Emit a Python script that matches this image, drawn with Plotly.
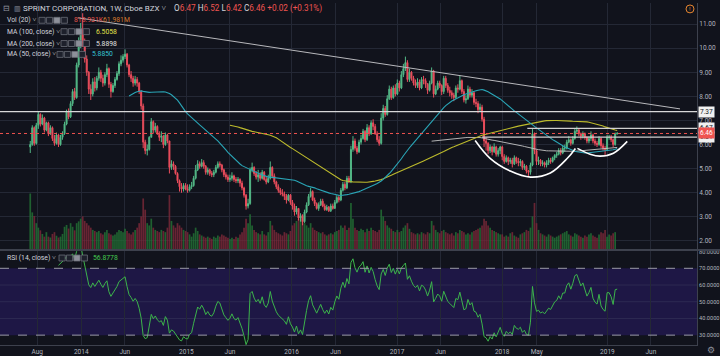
import numpy as np
import pandas as pd
import plotly.graph_objects as go

# ---------------- data (weekly) ----------------
start_date = "2013-07-08"
first_open = 5.90

close_2013 = [6.00, 6.70, 6.05, 6.80,
              7.25, 6.85, 7.10, 6.60,
              6.90, 6.45, 6.70, 6.25, 6.05,
              6.40, 6.00, 6.30, 6.45,
              6.85, 7.35, 7.15, 7.70,
              8.20, 7.95, 9.30, 10.10, 10.75]
high_2013 = [6.15, 6.80, 6.75, 6.90,
             7.35, 7.30, 7.25, 7.15,
             6.95, 6.95, 6.80, 6.75, 6.40,
             6.50, 6.45, 6.40, 6.55,
             6.95, 7.45, 7.50, 7.80,
             8.30, 8.35, 9.40, 10.45, 11.05]
low_2013 = [5.65, 5.95, 5.95, 6.00,
            6.65, 6.75, 6.80, 6.50,
            6.55, 6.35, 6.40, 6.15, 5.95,
            6.00, 5.90, 5.95, 6.20,
            6.40, 6.80, 7.05, 7.10,
            7.60, 7.85, 7.90, 9.20, 10.00]

close_2014 = [10.20, 9.55, 9.00, 8.30,
              8.10, 8.60, 8.35, 8.75,
              9.00, 8.75, 8.55, 8.90, 9.15,
              8.50, 8.20, 8.45, 8.70,
              8.95, 9.35, 9.50, 9.65,
              9.75, 9.30, 8.90, 8.75, 8.55,
              8.70, 8.55, 8.20, 7.60,
              6.10, 5.75, 5.80, 6.30,
              6.95, 6.60, 6.75, 6.45, 6.30,
              6.35, 6.00, 6.40, 6.15,
              5.05, 5.20, 5.10, 4.80,
              4.50, 4.25, 4.15, 4.30, 4.15]
high_2014 = [11.45, 10.40, 9.70, 9.05,
             8.50, 8.75, 8.80, 8.85,
             9.20, 9.10, 8.90, 9.00, 9.35,
             9.20, 8.60, 8.55, 8.80,
             9.05, 9.45, 9.70, 9.75,
             9.95, 9.80, 9.35, 9.05, 8.85,
             8.85, 8.80, 8.60, 8.25,
             7.70, 6.20, 6.00, 6.35,
             7.10, 7.00, 6.90, 6.80, 6.55,
             6.55, 6.40, 6.50, 6.45,
             6.10, 5.35, 5.30, 5.15,
             4.85, 4.55, 4.40, 4.40, 4.40]
low_2014 = [10.05, 9.40, 8.85, 8.10,
            7.85, 8.00, 8.20, 8.25,
            8.65, 8.60, 8.40, 8.45, 8.80,
            8.35, 7.95, 8.15, 8.35,
            8.65, 8.85, 9.25, 9.40,
            9.55, 9.20, 8.80, 8.60, 8.40,
            8.45, 8.40, 8.10, 7.45,
            5.85, 5.60, 5.55, 5.75,
            6.30, 6.45, 6.50, 6.40, 6.15,
            6.10, 5.85, 5.95, 6.05,
            4.80, 4.95, 4.95, 4.75,
            4.40, 4.05, 4.00, 4.05, 4.10]

close_2015 = [4.10, 4.25, 4.30, 4.60,
              4.95, 5.20, 5.10, 5.25,
              5.10, 4.85, 4.95, 4.80, 4.75,
              4.85, 5.05, 5.20, 5.15,
              4.95, 4.75, 4.65, 4.55,
              4.60, 4.70, 4.55, 4.50, 4.55,
              4.40, 4.20, 3.90, 3.45,
              3.55, 4.95, 5.05, 4.80, 4.65,
              4.75, 4.60, 4.85, 4.55,
              4.45, 4.60, 5.05, 4.70,
              4.45, 4.25, 4.10, 4.00, 3.95,
              3.85, 3.70, 3.90, 3.60]
high_2015 = [4.35, 4.35, 4.45, 4.70,
             5.15, 5.35, 5.30, 5.40,
             5.35, 5.15, 5.05, 5.00, 4.90,
             4.95, 5.15, 5.30, 5.30,
             5.20, 5.00, 4.85, 4.75,
             4.75, 4.85, 4.75, 4.65, 4.65,
             4.60, 4.50, 4.25, 3.95,
             3.75, 5.05, 5.25, 5.10, 4.90,
             4.95, 4.85, 4.95, 4.90,
             4.65, 4.75, 5.30, 5.10,
             4.80, 4.50, 4.35, 4.20, 4.15,
             4.05, 3.95, 3.95, 3.95]
low_2015 = [4.00, 4.05, 4.15, 4.25,
            4.55, 4.90, 5.00, 5.05,
            5.00, 4.75, 4.75, 4.70, 4.65,
            4.65, 4.80, 5.00, 5.05,
            4.85, 4.65, 4.55, 4.45,
            4.45, 4.50, 4.45, 4.40, 4.40,
            4.25, 4.10, 3.80, 3.30,
            3.35, 3.50, 4.85, 4.70, 4.55,
            4.45, 4.50, 4.55, 4.50,
            4.35, 4.40, 4.55, 4.60,
            4.35, 4.15, 4.00, 3.90, 3.85,
            3.70, 3.55, 3.65, 3.50]

close_2016 = [3.45, 3.20, 3.35, 2.95,
              3.05, 2.80, 3.20, 3.50, 3.85,
              4.05, 3.70, 3.55, 3.35,
              3.50, 3.65, 3.45, 3.30,
              3.40, 3.25, 3.45, 3.35, 3.60,
              3.80, 3.70, 4.10, 4.35,
              4.20, 4.60, 4.45, 5.80,
              6.15, 5.85, 5.70, 6.10, 6.25,
              6.55, 6.20, 6.70, 6.45,
              6.90, 6.75, 6.45, 6.20, 6.05,
              7.10, 7.50, 7.25, 7.90,
              8.30, 7.95, 8.35, 8.10]
high_2016 = [3.70, 3.55, 3.45, 3.35,
             3.15, 3.10, 3.30, 3.60, 3.95,
             4.20, 4.10, 3.80, 3.60,
             3.60, 3.75, 3.75, 3.55,
             3.50, 3.45, 3.55, 3.55, 3.70,
             3.90, 3.90, 4.20, 4.45,
             4.45, 4.70, 4.70, 5.95,
             6.35, 6.25, 5.95, 6.20, 6.40,
             6.65, 6.60, 6.85, 6.80,
             7.00, 7.05, 6.85, 6.55, 6.35,
             7.30, 7.65, 7.60, 8.05,
             8.45, 8.40, 8.45, 8.50]
low_2016 = [3.30, 3.05, 3.10, 2.85,
            2.80, 2.65, 2.75, 3.15, 3.45,
            3.80, 3.65, 3.45, 3.30,
            3.25, 3.45, 3.40, 3.25,
            3.25, 3.20, 3.20, 3.30, 3.35,
            3.55, 3.60, 3.65, 4.05,
            4.10, 4.15, 4.40, 4.40,
            5.70, 5.75, 5.60, 5.65, 6.00,
            6.20, 6.10, 6.15, 6.35,
            6.40, 6.60, 6.40, 6.10, 5.95,
            6.00, 7.00, 7.15, 7.20,
            7.85, 7.85, 7.90, 8.00]

close_2017 = [8.55, 8.35, 8.90, 9.15, 9.40,
              8.70, 9.00, 8.75, 8.55,
              8.45, 8.60, 8.35, 8.70,
              8.65, 8.50, 8.25, 8.55,
              9.05, 8.10, 8.30, 8.55, 8.45,
              8.20, 8.75, 8.45, 8.25,
              8.15, 8.05, 7.95, 8.35, 8.30,
              8.65, 8.20, 7.85, 7.90,
              8.30, 8.05, 8.15, 7.75,
              7.70, 7.45, 7.55, 7.05, 6.15,
              6.05, 5.75, 5.90, 5.70,
              5.90, 5.60, 5.75, 5.90]
high_2017 = [8.70, 8.65, 9.05, 9.35, 9.65,
             9.50, 9.15, 9.05, 8.85,
             8.70, 8.75, 8.70, 8.80,
             8.85, 8.75, 8.55, 8.65,
             9.20, 9.10, 8.45, 8.65, 8.65,
             8.50, 8.85, 8.85, 8.55,
             8.40, 8.25, 8.15, 8.45, 8.50,
             8.85, 8.70, 8.30, 8.05,
             8.45, 8.40, 8.30, 8.20,
             7.90, 7.80, 7.70, 7.65, 7.15,
             6.30, 6.10, 6.00, 5.95,
             6.05, 5.95, 5.85, 5.95]
low_2017 = [8.05, 8.20, 8.30, 8.80, 9.05,
            8.60, 8.60, 8.65, 8.45,
            8.35, 8.35, 8.25, 8.30,
            8.50, 8.35, 8.10, 8.20,
            8.50, 7.95, 8.05, 8.25, 8.35,
            8.05, 8.10, 8.35, 8.15,
            8.00, 7.90, 7.80, 7.90, 8.15,
            8.25, 8.10, 7.75, 7.70,
            7.85, 7.95, 7.95, 7.65,
            7.55, 7.30, 7.35, 6.95, 5.90,
            5.75, 5.60, 5.65, 5.55,
            5.65, 5.50, 5.50, 5.60]

close_2018 = [5.50, 5.30, 5.45, 5.30, 5.35,
              5.20, 5.45, 5.30, 5.25,
              5.30, 5.05, 5.10, 4.90,
              4.85, 5.15, 6.45, 5.75, 5.30,
              5.35, 5.20, 5.25, 5.15,
              5.25, 5.35, 5.30, 5.45,
              5.55, 5.60, 5.75, 5.65, 5.85,
              5.85, 6.10, 6.20, 6.05,
              6.25, 6.55, 6.60, 6.45,
              6.35, 6.45, 6.30, 6.15, 6.25,
              6.40, 6.15, 6.05, 6.00,
              6.25, 5.95, 5.85, 5.80, 6.30]
high_2018 = [5.95, 5.60, 5.55, 5.50, 5.45,
             5.45, 5.55, 5.50, 5.45,
             5.40, 5.35, 5.20, 5.15,
             4.95, 5.25, 6.65, 6.50, 5.80,
             5.50, 5.40, 5.35, 5.30,
             5.35, 5.45, 5.45, 5.50,
             5.60, 5.70, 5.85, 5.85, 5.95,
             6.00, 6.20, 6.35, 6.25,
             6.35, 6.65, 6.75, 6.65,
             6.50, 6.55, 6.50, 6.35, 6.35,
             6.55, 6.45, 6.25, 6.15,
             6.35, 6.30, 6.05, 5.95, 6.40]
low_2018 = [5.35, 5.20, 5.25, 5.15, 5.20,
            5.05, 5.15, 5.20, 5.10,
            5.10, 4.95, 4.95, 4.80,
            4.70, 4.75, 5.10, 5.60, 5.15,
            5.15, 5.10, 5.10, 5.05,
            5.05, 5.15, 5.20, 5.25,
            5.35, 5.45, 5.55, 5.55, 5.60,
            5.70, 5.80, 6.05, 5.95,
            6.00, 6.20, 6.45, 6.35,
            6.20, 6.25, 6.20, 6.05, 6.05,
            6.15, 6.05, 5.95, 5.90,
            5.95, 5.85, 5.75, 5.55, 5.75]

close_2019 = [6.30, 6.20, 6.00, 6.44, 6.46]
high_2019 = [6.40, 6.40, 6.25, 6.50, 6.52]
low_2019 = [6.20, 6.10, 5.90, 5.95, 6.42]

vol_2013 = [252, 168, 152, 120, 100, 88, 72, 60, 80, 60, 56, 72, 80,
            64, 56, 60, 72, 104, 112, 96, 120, 104, 88, 120, 128, 140]
vol_2014 = [150, 130, 120, 110, 100, 90, 85, 80, 85, 75, 70, 80, 90,
            75, 70, 65, 70, 80, 90, 85, 80, 95, 85, 75, 70, 80,
            90, 100, 120, 150, 230, 180, 120, 110, 140, 100, 90, 85, 80,
            90, 85, 80, 100, 245, 130, 110, 100, 120, 110, 100, 90, 85]
vol_2015 = [80, 70, 60, 75, 100, 85, 70, 65, 60, 55, 60, 55, 50,
            60, 55, 65, 60, 70, 65, 60, 55, 50, 55, 50, 60, 55,
            70, 80, 100, 140, 120, 160, 110, 90, 80, 75, 70, 85, 70,
            65, 80, 130, 110, 90, 80, 75, 70, 65, 80, 75, 70, 85]
vol_2016 = [110, 120, 130, 140, 150, 160, 120, 110, 100, 120, 100, 90, 85,
            80, 75, 80, 70, 65, 70, 75, 70, 80, 85, 90, 110, 100,
            110, 90, 100, 210, 140, 100, 90, 85, 95, 90, 80, 95, 85,
            100, 90, 85, 80, 90, 180, 150, 130, 110, 100, 95, 85, 80]
vol_2017 = [90, 80, 85, 100, 110, 120, 95, 80, 75, 70, 75, 70, 80,
            75, 70, 80, 75, 130, 110, 90, 80, 75, 85, 90, 80, 75,
            70, 75, 65, 80, 75, 90, 85, 80, 70, 75, 70, 80, 85,
            90, 95, 100, 110, 140, 130, 110, 100, 90, 85, 80, 75, 70]
vol_2018 = [70, 60, 65, 60, 75, 80, 65, 60, 55, 70, 75, 80, 90,
            85, 100, 150, 210, 120, 90, 75, 70, 65, 60, 70, 65, 60,
            55, 60, 65, 70, 75, 80, 85, 70, 65, 60, 75, 70, 65,
            60, 55, 65, 60, 70, 75, 65, 60, 55, 70, 80, 75, 90, 60]
vol_2019 = [70, 65, 75, 80, 0.8]

# chart drawings (date, price)
trend_dates = ["2013-12-20", "2019-09-10"]
trend_prices = [11.26, 7.48]
level_main = 7.37
last_price = 6.46
ray_levels = [6.67, 6.31]
ray_starts = ["2018-03-29", "2017-10-23"]
cup_dates = ["2017-09-29", "2017-11-20", "2018-01-29", "2018-04-09",
             "2018-06-17", "2018-08-15", "2018-09-12"]
cup_prices = [6.17, 5.43, 4.90, 4.65, 4.82, 5.43, 5.84]
handle_dates = ["2018-09-19", "2018-11-02", "2018-12-07", "2019-01-22", "2019-03-11"]
handle_prices = [5.84, 5.60, 5.52, 5.64, 6.13]

price_ticks = [2, 3, 4, 5, 6, 7, 8, 9, 10, 11]
rsi_ticks = [30, 40, 50, 60, 70, 80]
x_tick_dates = ["2013-08-01", "2014-01-01", "2014-06-01", "2015-01-01", "2015-06-01",
                "2016-01-01", "2016-06-01", "2017-01-01", "2017-06-01", "2018-01-01",
                "2018-05-01", "2019-01-01", "2019-06-01"]
x_tick_text = ["Aug", "2014", "Jun", "2015", "Jun", "2016", "Jun", "2017", "Jun",
               "2018", "May", "2019", "Jun"]

# ---------------- assemble ----------------
close = np.array(close_2013 + close_2014 + close_2015 + close_2016 + close_2017 + close_2018 + close_2019)
high_in = np.array(high_2013 + high_2014 + high_2015 + high_2016 + high_2017 + high_2018 + high_2019)
low_in = np.array(low_2013 + low_2014 + low_2015 + low_2016 + low_2017 + low_2018 + low_2019)
volume = np.array(vol_2013 + vol_2014 + vol_2015 + vol_2016 + vol_2017 + vol_2018 + vol_2019)
n = min(len(close), len(high_in), len(low_in), len(volume))
close, high_in, low_in, volume = close[:n], high_in[:n], low_in[:n], volume[:n]
opn = np.concatenate([[first_open], close[:-1]])
high = np.maximum(high_in, np.maximum(opn, close))
low = np.minimum(low_in, np.minimum(opn, close))
dates = pd.date_range(start_date, periods=n, freq="W-MON")

s = pd.Series(close)
ma50 = s.rolling(50).mean()
ma100 = s.rolling(100).mean()
ma200 = s.rolling(200).mean()
d = s.diff()
au = d.clip(lower=0).ewm(alpha=1 / 14, adjust=False, min_periods=14).mean()
ad = (-d).clip(lower=0).ewm(alpha=1 / 14, adjust=False, min_periods=14).mean()
rsi = 100 - 100 / (1 + au / ad)

# ---------------- style / layout constants ----------------
BG = "#11131c"
GRID = "#242835"
AXIS_TXT = "#b2b5be"
UP = "#53b987"
DN = "#eb4d5c"
FONT = "Roboto"
PW, PH = 697.0, 346.0  # plot area pixels


def px(x):
    return x / PW


def py(y):
    return (PH - y) / PH


fig = go.Figure()

vol_colors = ["rgba(34,110,52,0.85)" if c >= o else "rgba(120,40,55,0.85)" for o, c in zip(opn, close)]
fig.add_trace(go.Bar(x=dates, y=volume, marker=dict(color=vol_colors, line=dict(width=0)),
                     xaxis="x", yaxis="y", hoverinfo="skip"))

fig.add_trace(go.Candlestick(x=dates, open=opn, high=high, low=low, close=close,
                             increasing=dict(line=dict(color=UP, width=1), fillcolor=UP),
                             decreasing=dict(line=dict(color=DN, width=1), fillcolor=DN),
                             whiskerwidth=0, xaxis="x", yaxis="y3", hoverinfo="skip"))

fig.add_trace(go.Scatter(x=dates, y=ma200, mode="lines", line=dict(color="#c4c4c4", width=0.9),
                         xaxis="x", yaxis="y3", hoverinfo="skip"))
fig.add_trace(go.Scatter(x=dates, y=ma100, mode="lines", line=dict(color="#bdbb2c", width=1.1),
                         xaxis="x", yaxis="y3", hoverinfo="skip"))
fig.add_trace(go.Scatter(x=dates, y=ma50, mode="lines", line=dict(color="#2aa5b6", width=1.1),
                         xaxis="x", yaxis="y3", hoverinfo="skip"))

fig.add_trace(go.Scatter(x=trend_dates, y=trend_prices, mode="lines", line=dict(color="#b8b8bc", width=1),
                         xaxis="x", yaxis="y3", hoverinfo="skip"))
fig.add_trace(go.Scatter(x=cup_dates, y=cup_prices, mode="lines",
                         line=dict(color="#ffffff", width=1.6, shape="spline"),
                         xaxis="x", yaxis="y3", hoverinfo="skip"))
fig.add_trace(go.Scatter(x=handle_dates, y=handle_prices, mode="lines",
                         line=dict(color="#ffffff", width=1.6, shape="spline"),
                         xaxis="x", yaxis="y3", hoverinfo="skip"))

fig.add_trace(go.Scatter(x=dates, y=rsi, mode="lines", line=dict(color="#3cb44b", width=1),
                         xaxis="x2", yaxis="y2", hoverinfo="skip"))

x_range = ["2013-03-25", "2019-11-08"]
price_dom0 = (PH - 250) / PH
rsi_dom1 = (PH - 251) / PH

shapes = []
# RSI band & grid
shapes.append(dict(type="rect", xref="paper", yref="y2", x0=0, x1=1, y0=30, y1=70,
                   fillcolor="#1e1745", line=dict(width=0), layer="below"))
for v in [40, 50, 60]:
    shapes.append(dict(type="line", xref="paper", yref="y2", x0=0, x1=1, y0=v, y1=v,
                       line=dict(color="#2e2a52", width=1), layer="below"))
for v in [70, 30]:
    shapes.append(dict(type="line", xref="paper", yref="y2", x0=0, x1=1, y0=v, y1=v,
                       line=dict(color="#9a9aa6", width=1, dash="dash")))
# panel separator
shapes.append(dict(type="line", xref="paper", yref="paper", x0=0, x1=1.04, y0=py(250), y1=py(250),
                   line=dict(color="#3d414d", width=2)))
# horizontal levels
shapes.append(dict(type="line", xref="paper", yref="y3", x0=0, x1=1, y0=level_main, y1=level_main,
                   line=dict(color="#d8d8d8", width=1.3)))
for lv, st in zip(ray_levels, ray_starts):
    shapes.append(dict(type="line", xref="x", yref="y3", x0=st, x1=x_range[1], y0=lv, y1=lv,
                       line=dict(color="#d0d0d0", width=1.1)))
shapes.append(dict(type="line", xref="paper", yref="y3", x0=0, x1=1, y0=last_price, y1=last_price,
                   line=dict(color="#ef5350", width=1, dash="dot")))


# legend icons (4 small boxes per row)
def icon_row(x0, yc):
    out = []
    for k in range(4):
        fill = "#8d909a" if k == 2 else "#1d202b"
        out.append(dict(type="rect", xref="paper", yref="paper",
                        x0=px(x0 + k * 7.4), x1=px(x0 + k * 7.4 + 6.2),
                        y0=py(yc + 3), y1=py(yc - 3),
                        line=dict(color="#6b6e79", width=0.8), fillcolor=fill))
    return out


for (x0, yc) in [(39, 17.5), (61, 29), (61, 41), (57, 52), (59, 258)]:
    shapes += icon_row(x0, yc)

# top right orange icon
shapes.append(dict(type="circle", xref="paper", yref="paper", x0=px(686), x1=px(694), y0=py(10), y1=py(2),
                   line=dict(color="#e8862f", width=1)))

ann = []


def txt(x, y, text, color="#d1d4dc", size=6.8, xanchor="left"):
    ann.append(dict(xref="paper", yref="paper", x=px(x), y=py(y), text=text, showarrow=False,
                    xanchor=xanchor, yanchor="middle", font=dict(family=FONT, size=size, color=color)))


txt(1, 6, "⊟", "#9598a1", 8)
txt(12, 6, "▥", "#9598a1", 7)
txt(21, 6, "SPRINT CORPORATION, 1W, Cboe BZX ˅", "#d1d4dc", 8.0)
red = "#ef5350"
txt(172, 6, "O<span style='color:%s'>6.47</span> H<span style='color:%s'>6.52</span> "
            "L<span style='color:%s'>6.42</span> C<span style='color:%s'>6.46</span> "
            "<span style='color:%s'>+0.02 (+0.31%%)</span>" % (red, red, red, red, red), "#d1d4dc", 8.2)
txt(5, 17.5, "Vol (20) ˅")
txt(72, 17.5, "818.931K", "#e5534b")
txt(101, 17.5, "61.981M", "#d4782c")
txt(5, 29, "MA (100, close) ˅")
txt(94, 29, "6.5058", "#e4e24a")
txt(5, 41, "MA (200, close) ˅")
txt(94, 41, "5.8898", "#e0e0e0")
txt(5, 52, "MA (50, close) ˅")
txt(90, 52, "5.8850", "#35c0d4")
txt(5, 258, "RSI (14, close) ˅")
txt(91, 258, "56.8778", "#44c94f")
txt(690, 6, "!", "#e8862f", 6, "center")
txt(711, 351, "⚙", "#8d909a", 9, "center")


# price axis labels for levels
def tag(price, label, bg, fg):
    ann.append(dict(xref="paper", yref="y3", x=px(698), y=price, text=label, showarrow=False,
                    xanchor="left", yanchor="middle", bgcolor=bg, borderpad=1,
                    font=dict(family=FONT, size=6.5, color=fg)))


tag(level_main, "7.37", "#f0f0f0", "#131722")
tag(ray_levels[0], "6.67", "#f0f0f0", "#131722")
tag(ray_levels[1], "6.31", "#f0f0f0", "#131722")
tag(last_price, "6.46", "#ef5350", "#ffffff")

fig.update_layout(
    width=720, height=356,
    margin=dict(l=0, r=23, t=0, b=10),
    paper_bgcolor=BG, plot_bgcolor=BG,
    showlegend=False,
    bargap=0.15,
    font=dict(family=FONT, size=7, color=AXIS_TXT),
    xaxis=dict(domain=[0, 1], range=x_range, anchor="y", tickvals=x_tick_dates, showticklabels=False,
               showgrid=True, gridcolor=GRID, gridwidth=1, zeroline=False, ticks="",
               rangeslider=dict(visible=False), fixedrange=True),
    xaxis2=dict(domain=[0, 1], range=x_range, anchor="y2", matches="x", tickvals=x_tick_dates,
                ticktext=x_tick_text, showgrid=True, gridcolor=GRID, gridwidth=1, zeroline=False,
                ticks="", showline=True, linecolor="#3d414d", linewidth=1,
                tickfont=dict(family=FONT, size=6.5, color=AXIS_TXT)),
    yaxis=dict(domain=[price_dom0, 1], range=[0, 1100], visible=False, showgrid=False),
    yaxis3=dict(overlaying="y", anchor="x", side="right", range=[1.62, 11.874],
                tickvals=price_ticks, ticktext=["%.2f" % v for v in price_ticks],
                showgrid=True, gridcolor=GRID, gridwidth=1, zeroline=False, ticks="",
                showline=True, linecolor="#3d414d", linewidth=1,
                tickfont=dict(family=FONT, size=6.5, color=AXIS_TXT)),
    yaxis2=dict(domain=[0, rsi_dom1], anchor="x2", side="right", range=[24.1, 80.3],
                tickvals=rsi_ticks, ticktext=["%.4f" % v for v in rsi_ticks],
                showgrid=False, zeroline=False, ticks="",
                showline=True, linecolor="#3d414d", linewidth=1,
                tickfont=dict(family=FONT, size=5.6, color=AXIS_TXT)),
    shapes=shapes,
    annotations=ann,
)

fig.write_html("out.html", config={"displayModeBar": False},
               post_script="document.body.style.margin='0';document.body.style.overflow='hidden';"
                           "document.body.style.background='#11131c';")
